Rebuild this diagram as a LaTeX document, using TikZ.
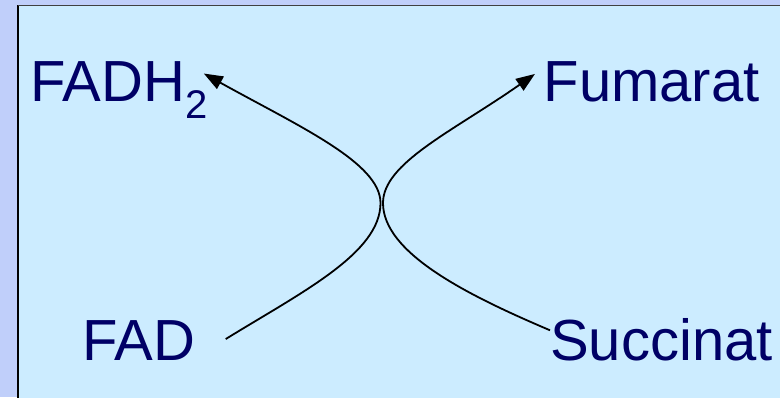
\documentclass[tikz,border=0pt]{standalone}
\usepackage{fontspec}
\setmainfont{Liberation Sans}
\usetikzlibrary{arrows.meta}
\definecolor{stripblue}{HTML}{C0CFFA}
\definecolor{panelblue}{HTML}{CCECFF}
\definecolor{navytext}{HTML}{000066}

\begin{document}
\begin{tikzpicture}[x=1pt, y=1pt,
                metab/.style={anchor=base west, inner sep=0pt, text=navytext,
                    font=\fontsize{58pt}{60pt}\selectfont},
                reaction/.style={line width=1.8pt, -{Triangle[length=19pt,width=14pt]}}]
                \useasboundingbox (0,0) rectangle (780,397);
                \fill[stripblue] (0,0) rectangle (780,397);
                \fill[panelblue] (17.5,-5) rectangle (790,391.5);
                \draw[line width=2pt] (17.5,-5) -- (17.5,391.5);
                \draw[line width=1pt, black!75] (17.5,391.5) -- (790,391.5);

                \node[metab] at (30.5,295) (fadh) {FADH\raisebox{-17pt}{\fontsize{40pt}{40pt}\selectfont 2}};
                \node[metab] at (543.5,295) (fum) {Fumarat};
                \node[metab] at (82.5,37) (fad) {FAD};
                \node[metab] at (550,37) (succ) {Succinat};

                \coordinate (m1) at (380.5,194);
                \coordinate (m2) at (383,194);

                \draw[reaction] ([shift={(30pt,1pt)}]fad.east) .. controls +(31.6:90pt) and +(-90:50pt) .. (m1)
                    .. controls +(90:40pt) and +(-29:110pt) .. ([shift={(-4pt,17pt)}]fadh.east);
                \draw[reaction] ([yshift=9pt]succ.west) .. controls +(157:90pt) and +(-90:50pt) .. (m2)
                    .. controls +(90:40pt) and +(-145:100pt) .. ([shift={(-8.5pt,8.4pt)}]fum.west);
            \end{tikzpicture}
\end{document}
